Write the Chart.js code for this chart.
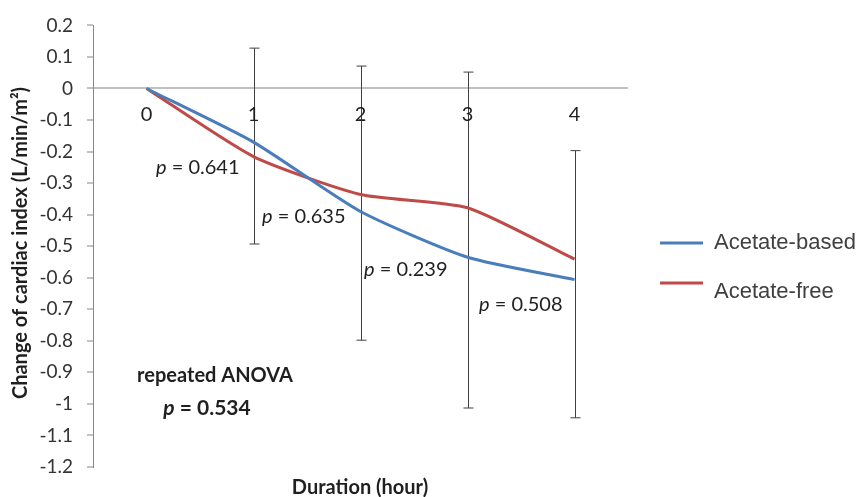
<!DOCTYPE html>
<html>
<head>
<meta charset="utf-8">
<script src="https://cdn.jsdelivr.net/npm/chart.js@4/dist/chart.umd.min.js"></script>
<style>
  html, body { margin: 0; padding: 0; background: #fff; }
  #wrap { width: 865px; height: 497px; }
</style>
</head>
<body>
<div id="wrap"><canvas id="cardiacChart" width="865" height="497"></canvas></div>
<script>
// Data
const hours = ['0', '1', '2', '3', '4'];
const acetateBased = [0, -0.17, -0.39, -0.535, -0.606];
const acetateFree = [0, -0.216, -0.336, -0.378, -0.541];
const errHigh = [null, 0.128, 0.071, 0.052, -0.197];
const errLow = [null, -0.493, -0.798, -1.013, -1.044];
const pLabels = ['0.641', '0.635', '0.239', '0.508'];
const anovaP = '0.534';

const FONT = 'Lato, "Open Sans", sans-serif';
const TEXT = '#1f1f1f';

// Error bars behind the lines
const errorBars = {
  id: 'errorBars',
  beforeDatasetsDraw(chart) {
    const { ctx, scales: { x, y } } = chart;
    ctx.save();
    ctx.strokeStyle = '#404040';
    ctx.lineWidth = 1;
    hours.forEach((h, i) => {
      if (errHigh[i] === null) return;
      const px = Math.round(x.getPixelForValue(i)) + 0.5;
      const top = y.getPixelForValue(errHigh[i]);
      const bot = y.getPixelForValue(errLow[i]);
      ctx.beginPath();
      ctx.moveTo(px, top); ctx.lineTo(px, bot);
      ctx.moveTo(px - 5, top); ctx.lineTo(px + 5, top);
      ctx.moveTo(px - 5, bot); ctx.lineTo(px + 5, bot);
      ctx.stroke();
    });
    ctx.restore();
  }
};

// Category labels, p values, titles and legend
const extras = {
  id: 'extras',
  afterDraw(chart) {
    const { ctx, scales: { x, y } } = chart;
    ctx.save();
    ctx.fillStyle = TEXT;

    // hour labels just under the zero line
    ctx.font = '20px ' + FONT;
    ctx.textAlign = 'center';
    ctx.textBaseline = 'middle';
    hours.forEach((h, i) => {
      ctx.fillText(h, x.getPixelForValue(i), y.getPixelForValue(0) + 26);
    });

    // p values between time points
    const pPos = [[156, 168], [262, 217], [364, 270], [479, 305]];
    ctx.textAlign = 'left';
    pLabels.forEach((p, i) => {
      const [px, py] = pPos[i];
      ctx.font = 'italic 20px ' + FONT;
      ctx.fillText('p', px, py);
      const w = ctx.measureText('p').width;
      ctx.font = '20px ' + FONT;
      ctx.fillText(' = ' + p, px + w, py);
    });

    // repeated ANOVA note
    ctx.textAlign = 'center';
    ctx.font = 'bold 20px ' + FONT;
    ctx.fillText('repeated ANOVA', 215, 376);
    ctx.font = 'bold italic 21px ' + FONT;
    const pw = ctx.measureText('p').width;
    ctx.font = 'bold 21px ' + FONT;
    const rest = ' = ' + anovaP;
    const rw = ctx.measureText(rest).width;
    const sx = 207 - (pw + rw) / 2;
    ctx.textAlign = 'left';
    ctx.font = 'bold italic 21px ' + FONT;
    ctx.fillText('p', sx, 408);
    ctx.font = 'bold 21px ' + FONT;
    ctx.fillText(rest, sx + pw, 408);

    // axis titles
    ctx.textAlign = 'center';
    ctx.font = 'bold 20px ' + FONT;
    ctx.fillText('Duration (hour)', 360, 488);
    ctx.save();
    ctx.translate(21, 243);
    ctx.rotate(-Math.PI / 2);
    ctx.fillText('Change of cardiac index (L/min/m\u00B2)', 0, 0);
    ctx.restore();

    // legend
    ctx.textAlign = 'left';
    ctx.font = '22px "Liberation Sans", Arial, sans-serif';
    ctx.fillStyle = '#404040';
    const items = [[243, 243], [283, 292]];
    chart.data.datasets.forEach((ds, i) => {
      const [ly, ty] = items[i];
      ctx.strokeStyle = ds.borderColor;
      ctx.lineWidth = 3;
      ctx.beginPath();
      ctx.moveTo(660, ly); ctx.lineTo(703, ly);
      ctx.stroke();
      ctx.fillText(ds.label, 714, ty);
    });
    ctx.restore();
  }
};

new Chart(document.getElementById('cardiacChart'), {
  type: 'line',
  data: {
    labels: hours,
    datasets: [{
      label: 'Acetate-based',
      data: acetateBased,
      borderColor: '#4a7ebb',
      borderWidth: 3,
      pointRadius: 0,
      tension: 0.2
    }, {
      label: 'Acetate-free',
      data: acetateFree,
      borderColor: '#be4b48',
      borderWidth: 3,
      pointRadius: 0,
      tension: 0.2
    }]
  },
  options: {
    responsive: false,
    animation: false,
    layout: { padding: { top: 22, right: 237, bottom: 30, left: 0 } },
    plugins: {
      legend: { display: false },
      tooltip: { enabled: false }
    },
    scales: {
      x: {
        type: 'category',
        offset: true,
        display: false
      },
      y: {
        min: -1.2,
        max: 0.2,
        afterFit(scale) { scale.width = 93; },
        ticks: {
          stepSize: 0.1,
          padding: 14,
          color: '#333333',
          font: { family: FONT, size: 19 },
          callback: v => String(Math.round(v * 10) / 10)
        },
        grid: {
          color: c => (c.tick && Math.abs(c.tick.value) < 1e-9) ? '#c0c0c0' : 'transparent',
          lineWidth: 2,
          tickColor: '#868686',
          tickLength: 6,
          tickWidth: 1
        },
        border: { display: true, color: '#868686', width: 1 }
      }
    }
  },
  plugins: [errorBars, extras]
});
</script>
</body>
</html>
